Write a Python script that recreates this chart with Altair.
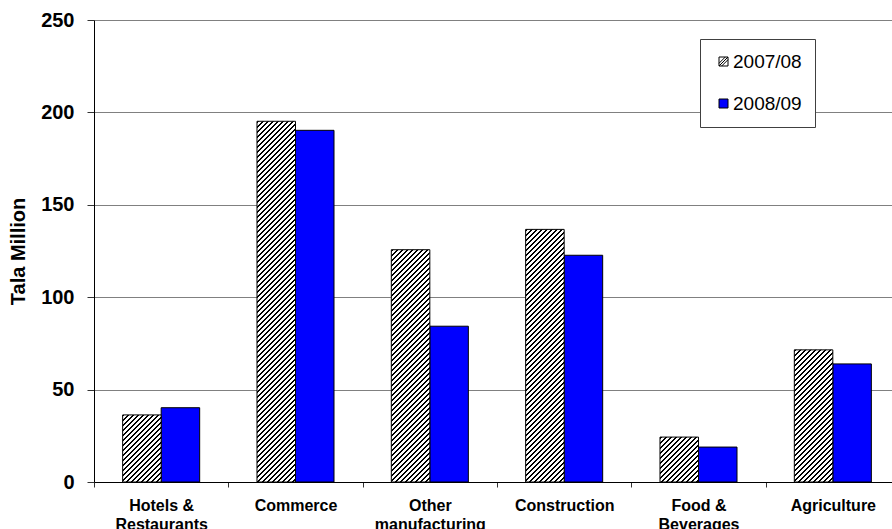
import math

import altair as alt
import pandas as pd

# Business credit by sector, Tala million
categories = [
    "Hotels &\nRestaurants",
    "Commerce",
    "Other\nmanufacturing",
    "Construction",
    "Food &\nBeverages",
    "Agriculture",
]
series = ["2007/08", "2008/09"]
values_2007_08 = [36.3, 195.2, 125.7, 136.7, 24.3, 71.5]
values_2008_09 = [40.2, 190.3, 84.3, 122.7, 18.9, 63.9]
y_ticks = [0, 50, 100, 150, 200, 250]

FONT = "Liberation Sans, Arial, sans-serif"
BLUE = "#0000FF"
Y_MAX = 250
PLOT_W = 798          # visible plot width
X_RANGE = 806         # the category bands run slightly past the right edge
PLOT_H = 462
OFFSET_PAD = 0.744
BAND = X_RANGE / len(categories)
BAR_W = BAND / (2 + 2 * OFFSET_PAD)

# legend swatches: hatched square and plain square (unit coordinates)
HATCH_PATH = "M-1,-1H1V1H-1Z M-1,1L1,-1 M-1,0.4L0.4,-1 M-0.4,1L1,-0.4"
SQUARE_PATH = "M-1,-1H1V1H-1Z"

rows = []
for cat, v1, v2 in zip(categories, values_2007_08, values_2008_09):
    rows.append({"category": cat, "series": series[0], "value": v1})
    rows.append({"category": cat, "series": series[1], "value": v2})
df = pd.DataFrame(rows)


def hatch_fill(value, spacing=5.0, ink=0.45):
    """Diagonal black/white stripes at 45 degrees for a bar of this value."""
    period = spacing / math.sqrt(2)
    w = BAR_W
    h = max(value / Y_MAX * PLOT_H, 1.0)
    r = w / h
    b = (r + 1) / (r * r + 1)
    a = r * b
    span = (w + h) / math.sqrt(2)
    step = period / span
    stops = []
    k = 0
    while k * step < 1:
        s = k * step
        m = min(s + ink * step, 1.0)
        e = min(s + step, 1.0)
        stops += [("black", s), ("black", m), ("white", m), ("white", e)]
        k += 1
    return alt.LinearGradient(
        gradient="linear",
        x1=0, y1=0, x2=round(a, 5), y2=round(b, 5),
        stops=[alt.GradientStop(color=c, offset=round(o, 5)) for c, o in stops],
    )


x_enc = alt.X(
    "category:N",
    sort=categories,
    scale=alt.Scale(domain=categories, paddingInner=0, paddingOuter=0, range=[0, X_RANGE]),
    axis=alt.Axis(
        title=None,
        labelAngle=0,
        labelExpr="split(datum.label, '\\n')",
        labelFont=FONT,
        labelFontSize=16,
        labelFontWeight="bold",
        labelColor="black",
        labelLineHeight=19,
        labelPadding=10,
        tickBand="extent",
        tickSize=5,
        tickColor="#333333",
        domainColor="black",
        grid=False,
    ),
)
xoff_enc = alt.XOffset(
    "series:N",
    sort=series,
    scale=alt.Scale(domain=series, paddingInner=0, paddingOuter=OFFSET_PAD),
)
y_axis = alt.Axis(
    title="Tala Million",
    titleFont=FONT,
    titleFontSize=20,
    titleFontWeight="bold",
    titleColor="black",
    titlePadding=12,
    values=y_ticks,
    labelFont=FONT,
    labelFontSize=20,
    labelFontWeight="bold",
    labelColor="black",
    labelPadding=13,
    tickSize=7,
    tickColor="#333333",
    domainColor="black",
    grid=True,
    gridColor="#808080",
    gridWidth=1,
)
y_scale = alt.Scale(domain=[0, Y_MAX], nice=False)

legend = alt.Legend(
    title=None,
    orient="none",
    legendX=606,
    legendY=19,
    direction="vertical",
    fillColor="white",
    strokeColor="#404040",
    padding=13,
    symbolOffset=1,
    labelOffset=0,
    rowPadding=22,
    labelFont=FONT,
    labelFontSize=19,
    labelColor="black",
    symbolSize=81,
    symbolOpacity=1,
    symbolStrokeColor="black",
    symbolStrokeWidth=1,
)

# key markers sit hidden inside the bars; they only feed the legend
key = (
    alt.Chart(df)
    .transform_calculate(mid="datum.value / 2")
    .mark_point(filled=True, opacity=1, strokeWidth=1, size=20)
    .encode(
        x=x_enc,
        xOffset=xoff_enc,
        y=alt.Y("mid:Q", scale=y_scale, axis=y_axis),
        fill=alt.Fill("series:N", scale=alt.Scale(domain=series, range=["white", BLUE]), legend=legend),
        stroke=alt.Stroke("series:N", scale=alt.Scale(domain=series, range=["black", "black"]), legend=legend),
        shape=alt.Shape("series:N", scale=alt.Scale(domain=series, range=[HATCH_PATH, SQUARE_PATH]), legend=legend),
    )
)

blue_bars = (
    alt.Chart(df)
    .transform_filter(alt.datum.series == series[1])
    .mark_bar(fill=BLUE, stroke="black", strokeWidth=1)
    .encode(x=x_enc, xOffset=xoff_enc, y=alt.Y("value:Q", scale=y_scale, axis=y_axis))
)

layers = [key, blue_bars]
for cat, v in zip(categories, values_2007_08):
    layers.append(
        alt.Chart(df)
        .transform_filter((alt.datum.series == series[0]) & (alt.datum.category == cat))
        .mark_bar(fill=hatch_fill(v), stroke="black", strokeWidth=1)
        .encode(x=x_enc, xOffset=xoff_enc, y=alt.Y("value:Q", scale=y_scale, axis=y_axis))
    )

chart = (
    alt.layer(*layers)
    .properties(
        width=PLOT_W,
        height=PLOT_H,
        autosize=alt.AutoSizeParams(type="none"),
        padding={"left": 94, "top": 20, "right": 0, "bottom": 47},
        background="white",
    )
    .configure_view(stroke=None)
)

chart.save("out.html", embed_options={"renderer": "svg", "actions": False})
